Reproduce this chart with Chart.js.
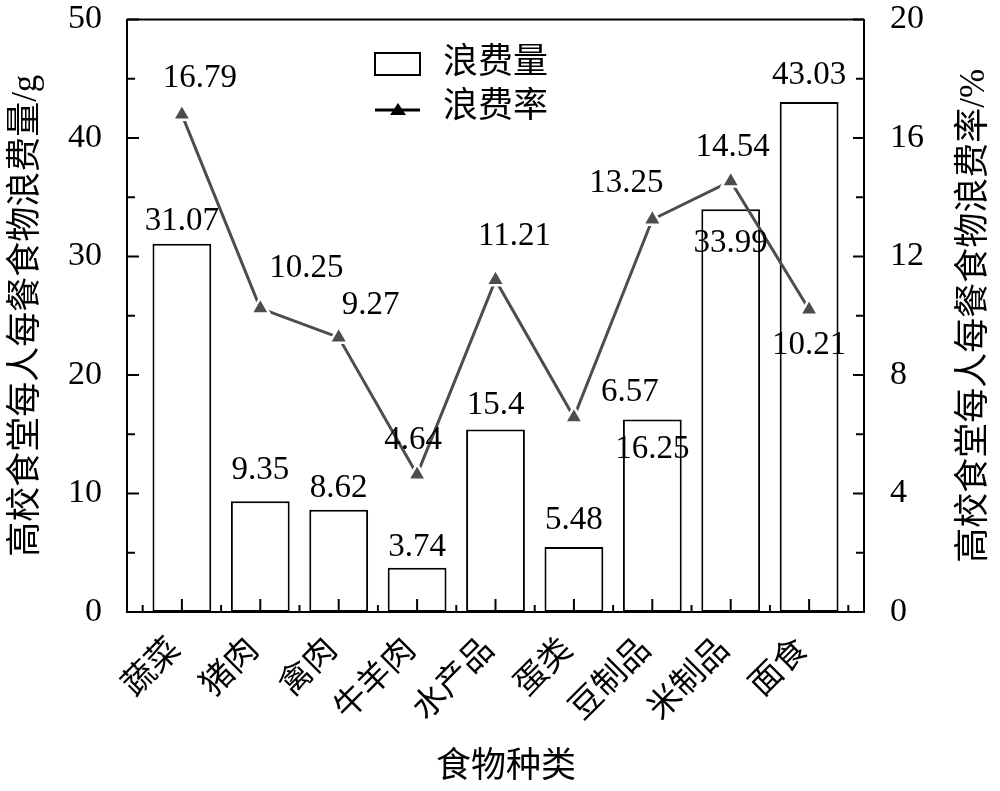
<!DOCTYPE html>
<html>
<head>
<meta charset="utf-8">
<script src="https://cdn.jsdelivr.net/npm/chart.js@4/dist/chart.umd.min.js"></script>
<style>
  html, body { margin: 0; background: #fff; }
</style>
</head>
<body>
<canvas id="chart" width="1000" height="791"></canvas>
<script>
// 数据
const categories = ['蔬菜', '猪肉', '禽肉', '牛羊肉', '水产品', '蛋类', '豆制品', '米制品', '面食'];
const wasteAmount = [31.07, 9.35, 8.62, 3.74, 15.4, 5.48, 16.25, 33.99, 43.03];
const wasteRate = [16.79, 10.25, 9.27, 4.64, 11.21, 6.57, 13.25, 14.54, 10.21];
const amountLabels = ['31.07', '9.35', '8.62', '3.74', '15.4', '5.48', '16.25', '33.99', '43.03'];
const rateLabels = ['16.79', '10.25', '9.27', '4.64', '11.21', '6.57', '13.25', '14.54', '10.21'];

// 数值标签相对柱顶/点的偏移 (px)
const amountLabelShift = [[0, -22], [0, -31], [0, -22], [0, -20], [0, -24], [0, -27], [0, 30], [0, 34], [0, -27]];
const rateLabelShift = [[18, -36], [46, -40], [32, -32], [-4, -34], [19, -44], [56, -25], [-26, -36], [2, -34], [0, 36]];

const SERIF = '"Liberation Serif", "Noto Sans CJK SC", serif';
const LINE_GREY = '#4d4d4d';

// 内向刻度、顶边框、轴标题、图例、数值标签
const decorPlugin = {
    id: 'decor',
    afterDatasetsDraw(chart) {
        const { ctx, chartArea: a, scales } = chart;
        const x = scales.x, yL = scales.yAmount, yR = scales.yRate;
        ctx.save();
        ctx.strokeStyle = '#000';
        ctx.lineWidth = 2;

        // 顶边框
        ctx.beginPath();
        ctx.moveTo(a.left, a.top);
        ctx.lineTo(a.right, a.top);
        ctx.stroke();

        // 左轴刻度
        for (let v = 0; v <= 50; v += 5) {
            const py = yL.getPixelForValue(v);
            const len = v % 10 === 0 ? 12 : 8;
            ctx.beginPath();
            ctx.moveTo(a.left, py);
            ctx.lineTo(a.left + len, py);
            ctx.stroke();
        }
        // 右轴刻度
        for (let v = 0; v <= 20; v += 2) {
            const py = yR.getPixelForValue(v);
            const len = v % 4 === 0 ? 11 : 8;
            ctx.beginPath();
            ctx.moveTo(a.right, py);
            ctx.lineTo(a.right - len, py);
            ctx.stroke();
        }
        // 底轴刻度
        for (let i = 0; i < categories.length; i++) {
            const px = x.getPixelForValue(i);
            ctx.beginPath();
            ctx.moveTo(px, a.bottom);
            ctx.lineTo(px, a.bottom - 13);
            ctx.stroke();
            const hx = x.getPixelForValue(i - 0.5);
            ctx.beginPath();
            ctx.moveTo(hx, a.bottom);
            ctx.lineTo(hx, a.bottom - 7);
            ctx.stroke();
        }
        const hx = x.getPixelForValue(categories.length - 0.5);
        ctx.beginPath();
        ctx.moveTo(hx, a.bottom);
        ctx.lineTo(hx, a.bottom - 7);
        ctx.stroke();

        // 数值标签
        ctx.fillStyle = '#000';
        ctx.font = '33px ' + SERIF;
        ctx.textAlign = 'center';
        ctx.textBaseline = 'middle';
        const barMeta = chart.getDatasetMeta(1);
        const lineMeta = chart.getDatasetMeta(0);
        barMeta.data.forEach((bar, i) => {
            ctx.fillText(amountLabels[i], bar.x + amountLabelShift[i][0], bar.y + amountLabelShift[i][1]);
        });
        lineMeta.data.forEach((pt, i) => {
            ctx.fillText(rateLabels[i], pt.x + rateLabelShift[i][0], pt.y + rateLabelShift[i][1]);
        });

        // 轴标题
        ctx.font = '35px ' + SERIF;
        ctx.save();
        ctx.translate(27, (a.top + a.bottom) / 2);
        ctx.rotate(-Math.PI / 2);
        ctx.fillText('高校食堂每人每餐食物浪费量/g', 0, 0);
        ctx.restore();
        ctx.save();
        ctx.translate(975, (a.top + a.bottom) / 2);
        ctx.rotate(-Math.PI / 2);
        ctx.fillText('高校食堂每人每餐食物浪费率/%', 0, 0);
        ctx.restore();
        ctx.fillText('食物种类', 506, 768);

        // 图例
        ctx.fillStyle = '#fff';
        ctx.fillRect(375, 53, 45, 22);
        ctx.strokeRect(375, 53, 45, 22);
        ctx.lineWidth = 3;
        ctx.beginPath();
        ctx.moveTo(375, 110);
        ctx.lineTo(420, 110);
        ctx.stroke();
        ctx.fillStyle = '#000';
        ctx.beginPath();
        ctx.moveTo(398, 103);
        ctx.lineTo(406, 115);
        ctx.lineTo(390, 115);
        ctx.closePath();
        ctx.fill();
        ctx.textAlign = 'left';
        ctx.fillText('浪费量', 443, 64);
        ctx.fillText('浪费率', 443, 108);
        ctx.restore();
    }
};

new Chart(document.getElementById('chart'), {
    type: 'bar',
    data: {
        datasets: [
            {
                type: 'line',
                label: '浪费率',
                data: wasteRate.map((v, i) => ({ x: i, y: v })),
                yAxisID: 'yRate',
                borderColor: LINE_GREY,
                borderWidth: 3,
                pointStyle: 'triangle',
                pointRadius: 10.5,
                pointBackgroundColor: LINE_GREY,
                pointBorderColor: '#fff',
                pointBorderWidth: 2.5,
                tension: 0,
                order: 0,
            },
            {
                type: 'bar',
                label: '浪费量',
                data: wasteAmount.map((v, i) => ({ x: i, y: v })),
                yAxisID: 'yAmount',
                backgroundColor: '#fff',
                borderColor: '#000',
                borderWidth: 2,
                borderSkipped: false,
                barPercentage: 0.75,
                categoryPercentage: 1,
                order: 1,
            }
        ]
    },
    options: {
        responsive: false,
        animation: false,
        layout: { padding: { top: 19.5, left: 0, right: 0, bottom: 0 } },
        plugins: {
            legend: { display: false },
            tooltip: { enabled: false },
        },
        scales: {
            x: {
                type: 'linear',
                min: -0.7,
                max: 8.7,
                offset: false,
                grid: { display: false, drawTicks: false },
                border: { display: true, color: '#000', width: 2 },
                afterBuildTicks: s => { s.ticks = categories.map((c, i) => ({ value: i })); },
                afterFit: s => { s.height = 179; s.paddingLeft = 0; s.paddingRight = 0; },
                ticks: {
                    callback: v => categories[v],
                    autoSkip: false,
                    minRotation: 45,
                    maxRotation: 45,
                    padding: 19,
                    labelOffset: -6,
                    color: '#000',
                    font: { family: SERIF, size: 33 },
                },
            },
            yAmount: {
                position: 'left',
                min: 0,
                max: 50,
                grid: { display: false, drawTicks: false },
                border: { display: true, color: '#000', width: 2 },
                afterFit: s => { s.width = 127; s.paddingTop = 0; s.paddingBottom = 0; },
                ticks: { stepSize: 10, padding: 25, color: '#000', font: { family: SERIF, size: 34 } },
            },
            yRate: {
                position: 'right',
                min: 0,
                max: 20,
                grid: { display: false, drawTicks: false },
                border: { display: true, color: '#000', width: 2 },
                afterFit: s => { s.width = 136; s.paddingTop = 0; s.paddingBottom = 0; },
                ticks: { stepSize: 4, padding: 26, color: '#000', font: { family: SERIF, size: 34 } },
            }
        }
    },
    plugins: [decorPlugin]
});
</script>
</body>
</html>
